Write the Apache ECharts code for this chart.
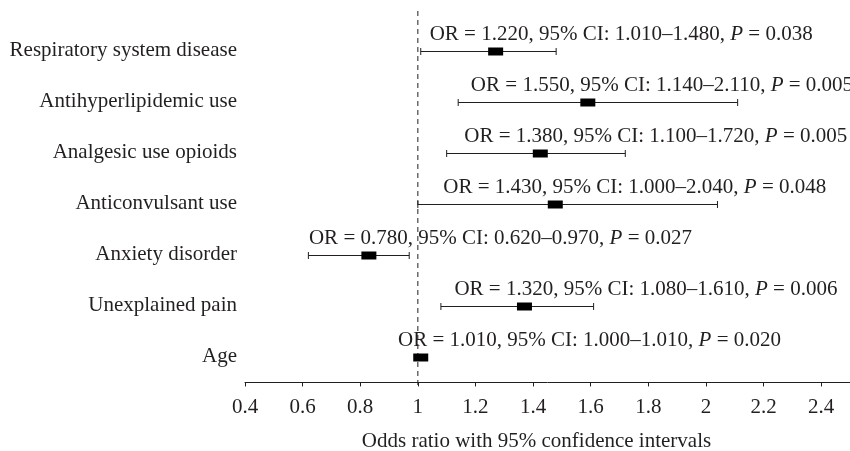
<!DOCTYPE html>
<html>
<head>
<meta charset="utf-8">
<script src="https://cdn.jsdelivr.net/npm/echarts@6/dist/echarts.min.js"></script>
<style>
  html, body { margin: 0; padding: 0; background: #fff; }
  #chart { width: 850px; height: 451px; }
</style>
</head>
<body>
<div id="chart"></div>
<script>
// rows, top to bottom
const factors = ['Respiratory system disease', 'Antihyperlipidemic use', 'Analgesic use opioids',
  'Anticonvulsant use', 'Anxiety disorder', 'Unexplained pain', 'Age']
const oddsRatio = ['1.220', '1.550', '1.380', '1.430', '0.780', '1.320', '1.010']
const ciLow = [1.01, 1.14, 1.10, 1.00, 0.62, 1.08, 1.00]
const ciHigh = [1.48, 2.11, 1.72, 2.04, 0.97, 1.61, 1.01]
const ciLowText = ['1.010', '1.140', '1.100', '1.000', '0.620', '1.080', '1.000']
const ciHighText = ['1.480', '2.110', '1.720', '2.040', '0.970', '1.610', '1.010']
const pValues = ['0.038', '0.005', '0.005', '0.048', '0.027', '0.006', '0.020']
// where the square sits in the figure
const boxAt = [1.27, 1.59, 1.425, 1.477, 0.83, 1.37, 1.01]
// where each annotation starts, in odds-ratio units
const noteAt = [1.041, 1.184, 1.161, 1.088, 0.622, 1.127, 0.931]
const xTicks = [0.4, 0.6, 0.8, 1, 1.2, 1.4, 1.6, 1.8, 2, 2.2, 2.4]
const refLine = 1

const n = factors.length
const rowPos = factors.map((f, i) => n - 1 - i + 0.5)
const yMin = -0.05
const yMax = 7.3
const font = '"Liberation Serif", "DejaVu Serif", serif'
const ink = '#231f20'

const chart = echarts.init(document.getElementById('chart'))

function renderItem (params, api) {
  const i = params.dataIndex
  const y = api.value(0)
  const lo = api.coord([api.value(1), y])
  const hi = api.coord([api.value(2), y])
  const mid = api.coord([api.value(3), y])
  const note = api.coord([api.value(4), y])
  const yy = Math.round(lo[1]) + 0.5
  const cap = 3.5
  return {
    type: 'group',
    children: [
      { type: 'line', shape: { x1: lo[0], y1: yy, x2: hi[0], y2: yy }, style: { stroke: ink, lineWidth: 1 } },
      { type: 'line', shape: { x1: lo[0], y1: yy - cap, x2: lo[0], y2: yy + cap }, style: { stroke: ink, lineWidth: 1 } },
      { type: 'line', shape: { x1: hi[0], y1: yy - cap, x2: hi[0], y2: yy + cap }, style: { stroke: ink, lineWidth: 1 } },
      { type: 'rect', shape: { x: mid[0] - 7.5, y: yy - 4, width: 15, height: 8 }, style: { fill: '#000' } },
      {
        type: 'text',
        x: note[0],
        y: yy - 17,
        style: {
          text: 'OR = ' + oddsRatio[i] + ', 95% CI: ' + ciLowText[i] + '\u2013' + ciHighText[i] + ', {i|P} = ' + pValues[i],
          fill: ink,
          font: '21px ' + font,
          verticalAlign: 'middle',
          align: 'left',
          rich: { i: { fontStyle: 'italic', fontSize: 21, fontFamily: font, fill: ink } }
        }
      }
    ]
  }
}

const option = {
  backgroundColor: '#fff',
  animation: false,
  textStyle: { fontFamily: font, color: ink },
  grid: { left: 245, right: 0, top: 10, bottom: 66, outerBoundsMode: 'none', containLabel: false },
  xAxis: {
    type: 'value',
    min: 0.4,
    max: 2.5,
    interval: 0.1,
    name: 'Odds ratio with 95% confidence intervals',
    nameLocation: 'middle',
    nameGap: 46,
    nameTextStyle: { fontSize: 21, color: ink, fontFamily: font, padding: [0, 22, 0, 0] },
    axisLine: { show: true, lineStyle: { color: ink, width: 1 } },
    axisTick: { show: true, length: 4, customValues: xTicks, lineStyle: { color: ink } },
    axisLabel: { customValues: xTicks, fontSize: 21, color: ink, margin: 12, fontFamily: font },
    splitLine: { show: false }
  },
  yAxis: {
    type: 'value',
    min: yMin,
    max: yMax,
    axisLine: { show: false },
    axisTick: { show: false },
    splitLine: { show: false },
    axisLabel: {
      customValues: rowPos,
      margin: 8,
      fontSize: 21,
      color: ink,
      fontFamily: font,
      formatter: v => factors[n - 1 - Math.floor(v)]
    }
  },
  series: [
    {
      type: 'line',
      data: [[refLine, yMin], [refLine, yMax]],
      symbol: 'none',
      lineStyle: { color: ink, width: 1, type: [5, 4] },
      z: 1
    },
    {
      type: 'custom',
      renderItem: renderItem,
      encode: { x: [1, 2, 3, 4], y: 0 },
      data: factors.map((f, i) => [rowPos[i], ciLow[i], ciHigh[i], boxAt[i], noteAt[i]]),
      z: 2
    }
  ]
}

chart.setOption(option)
</script>
</body>
</html>
